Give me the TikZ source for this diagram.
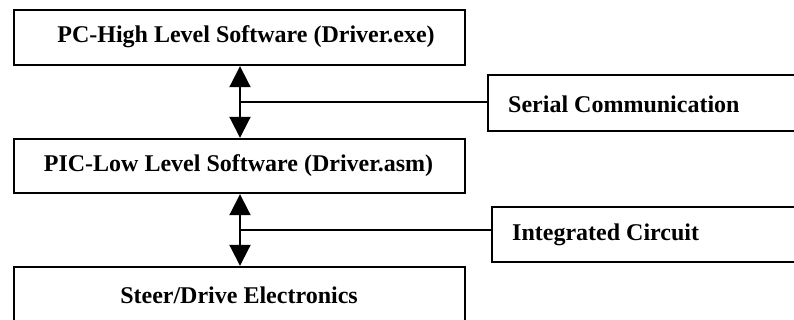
\documentclass[tikz,border=0pt]{standalone}
\usepackage{fontspec}
\setmainfont{Liberation Serif}
\usetikzlibrary{arrows.meta}
\tikzset{
  box/.style={draw=black, line width=2.4pt, fill=white, inner sep=0pt, anchor=center},
  sidebox/.style={box, anchor=west},
  lbl/.style={inner sep=0pt, font=\fontsize{24}{28}\selectfont\bfseries},
  link/.style={line width=2pt, {Triangle[length=21pt,width=21pt]}-{Triangle[length=21pt,width=21pt]}},
  tie/.style={line width=2pt}
}
\begin{document}
\begin{tikzpicture}[x=1pt,y=-1pt]
\useasboundingbox (0,0) rectangle (794,320);
\clip (0,0) rectangle (794,320);
% main boxes
\node[box, minimum width=451pt, minimum height=55pt] (pc)  at (239.5,37.5) {};
\node[box, minimum width=451pt, minimum height=54pt] (pic) at (239.5,166) {};
\node[box, minimum width=451pt, minimum height=55pt] (drv) at (239.5,294.5) {};
\node[lbl] (pct)  at (246,36.5) {PC-High Level Software (Driver.exe)};
\node[lbl] (pict) at (238.5,165.5) {PIC-Low Level Software (Driver.asm)};
\node[lbl] (drvt) at (239,295) {Steer/Drive Electronics};
% side boxes
\node[sidebox, minimum width=340pt, minimum height=56pt] (ser) at (487,103) {};
\node[sidebox, minimum width=340pt, minimum height=55pt] (ic)  at (491,234.5) {};
\node[lbl, anchor=west] (sert) at (508,104) {Serial Communication};
\node[lbl, anchor=west] (ict)  at (512,235) {Integrated Circuit};
% connectors
\coordinate (a1) at (240,102);
\coordinate (a2) at (240,230);
\draw[link] (pc.south -| a1) -- (pic.north -| a1);
\draw[link] (pic.south -| a2) -- (drv.north -| a2);
\draw[tie] (a1) -- (a1 -| ser.west);
\draw[tie] (a2) -- (a2 -| ic.west);
\end{tikzpicture}
\end{document}
